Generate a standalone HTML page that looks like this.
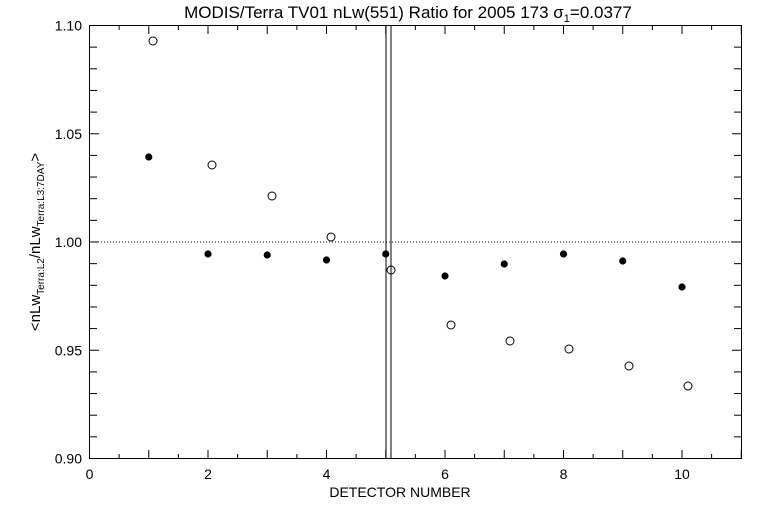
<!DOCTYPE html>
<html><head><meta charset="utf-8"><style>
html,body{margin:0;padding:0;background:#fff;width:768px;height:512px;overflow:hidden}
text{font-family:"Liberation Sans",sans-serif;fill:#000}
</style></head><body>
<svg id="s" width="768" height="512" xmlns="http://www.w3.org/2000/svg">
<rect x="89.5" y="25.5" width="652" height="433" fill="none" stroke="#000" stroke-width="1"/>
<text x="408" y="18" font-size="17" text-anchor="middle">MODIS/Terra TV01 nLw(551) Ratio for 2005 173 σ<tspan font-size="11" dy="4">1</tspan><tspan dy="-4">=0.0377</tspan></text>
<text x="400" y="497" font-size="14" text-anchor="middle">DETECTOR NUMBER</text>
<text transform="translate(40,242) rotate(-90)" font-size="15" text-anchor="middle">&lt;nLw<tspan font-size="10" dy="4">Terra:L2</tspan><tspan dy="-4">/nLw</tspan><tspan font-size="10" dy="4">Terra:L3:7DAY</tspan><tspan dy="-4">&gt;</tspan></text>
<line x1="89" y1="242" x2="742" y2="242" stroke="#000" stroke-dasharray="1,2"/>
<line x1="386" y1="25" x2="386" y2="458" stroke="#000"/>
<line x1="391" y1="25" x2="391" y2="458" stroke="#000"/>
<g id="t"></g>
</svg>
<script>
var g=document.getElementById('t'),ns='http://www.w3.org/2000/svg',h='';
function X(v){return 89.5+v*59.25}
function Y(v){return 25.5+(1.10-v)/0.2*433}
for(var i=0;i<=22;i++){var x=X(i/2),L=i%2?4:8;h+='<line x1="'+x+'" y1="458" x2="'+x+'" y2="'+(458-L)+'" stroke="#000"/><line x1="'+x+'" y1="26" x2="'+x+'" y2="'+(26+L)+'" stroke="#000"/>';
if(i%4==0&&i<=20)h+='<text x="'+x+'" y="479" font-size="14" text-anchor="middle">'+(i/2)+'</text>';}
for(var j=0;j<=20;j++){var v=0.90+j*0.01,y=Y(v),L=j%5?8:10;h+='<line x1="89" y1="'+y+'" x2="'+(89+L)+'" y2="'+y+'" stroke="#000"/><line x1="742" y1="'+y+'" x2="'+(742-L)+'" y2="'+y+'" stroke="#000"/>';
if(j%5==0)h+='<text x="82" y="'+(y+5)+'" font-size="14" text-anchor="end">'+v.toFixed(2)+'</text>';}
var f=[157,254,255,260,254,276,264,254,261,287],o=[[153,41],[212,165],[272,196],[331,237],[391,270],[451,325],[510,341],[569,349],[629,366],[688,386]];
for(var k=0;k<10;k++){h+='<circle cx="'+X(k+1)+'" cy="'+f[k]+'" r="3.6" fill="#000"/>';h+='<circle cx="'+o[k][0]+'" cy="'+o[k][1]+'" r="4" fill="none" stroke="#000"/>';}
g.innerHTML=h;
</script>
</body></html>
